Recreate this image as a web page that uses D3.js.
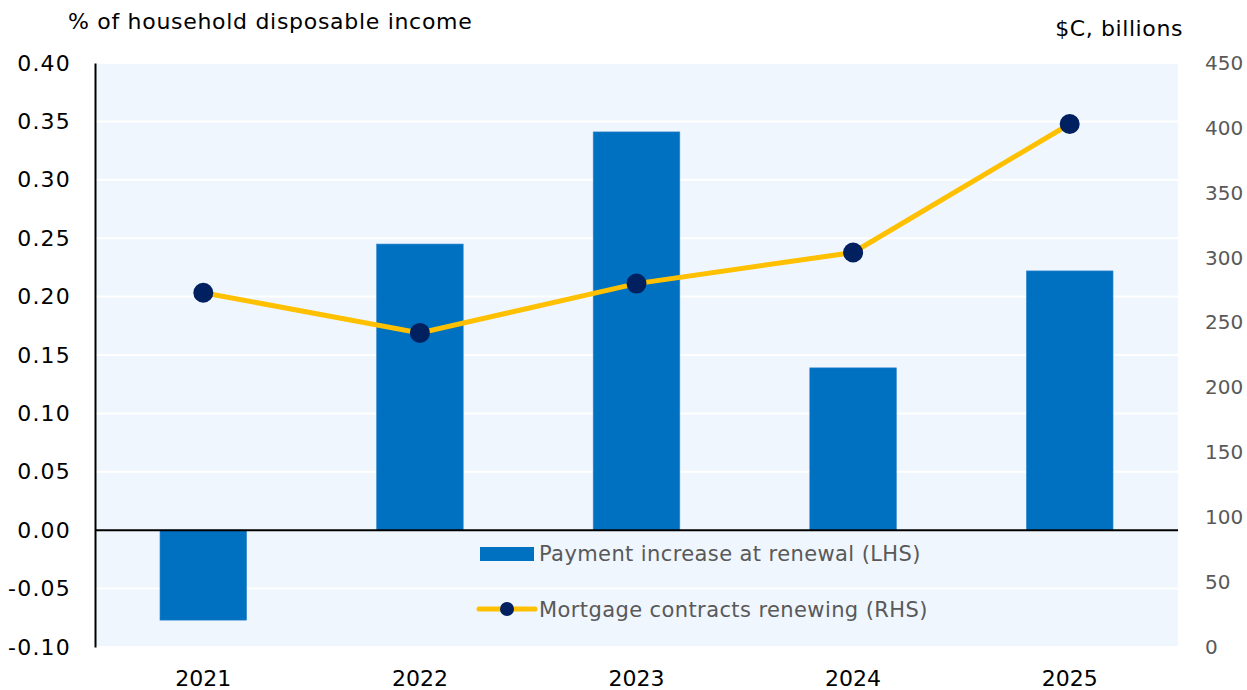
<!DOCTYPE html>
<html>
<head>
<meta charset="utf-8">
<script src="https://cdn.jsdelivr.net/npm/d3@7"></script>
<style>
  body { margin: 0; background: #ffffff; }
  svg text { font-family: "DejaVu Sans", sans-serif; }
</style>
</head>
<body>
<div id="chart"></div>
<script>
// podaci
const godine = ["2021", "2022", "2023", "2024", "2025"];
const povecanjeRate = [-0.077, 0.245, 0.341, 0.139, 0.222];   // % dohotka (LHS)
const ugovori = [273, 242, 280, 304, 403];                     // $C mlrd (RHS)
const lijeviTickovi = [-0.10, -0.05, 0.00, 0.05, 0.10, 0.15, 0.20, 0.25, 0.30, 0.35, 0.40];
const desniTickovi = [0, 50, 100, 150, 200, 250, 300, 350, 400, 450];
const nazivSerija = ["Payment increase at renewal (LHS)", "Mortgage contracts renewing (RHS)"];

function drawChart() {
    const dim = {
        sirina: 1247,
        visina: 690,
        margine: { top: 63, right: 69, bottom: 43, left: 95 },
    };
    dim.grSirina = dim.sirina - dim.margine.left - dim.margine.right;
    dim.grVisina = dim.visina - dim.margine.top - dim.margine.bottom;

    const svg = d3.select("#chart")
        .append("svg")
        .attr("width", dim.sirina)
        .attr("height", dim.visina);

    const okvir = svg.append("g")
        .attr("transform", `translate(${dim.margine.left},${dim.margine.top})`);

    // razmjeri
    const xScale = d3.scaleBand()
        .domain(godine)
        .range([0, dim.grSirina])
        .paddingInner(0.6)
        .paddingOuter(0.3);

    const yLijevo = d3.scaleLinear()
        .domain([-0.10, 0.40])
        .range([dim.grVisina, 0]);

    const yDesno = d3.scaleLinear()
        .domain([0, 450])
        .range([dim.grVisina, 0]);

    // pozadina
    okvir.append("rect")
        .attr("width", dim.grSirina)
        .attr("height", dim.grVisina)
        .attr("fill", "#eff6fd");

    // mreza
    okvir.append("g")
        .selectAll("line")
        .data(lijeviTickovi.filter(d => d !== 0))
        .join("line")
        .attr("x1", 0)
        .attr("x2", dim.grSirina)
        .attr("y1", d => yLijevo(d))
        .attr("y2", d => yLijevo(d))
        .attr("stroke", "#ffffff")
        .attr("stroke-width", 2);

    // lijeva os
    const osL = okvir.append("g")
        .call(d3.axisLeft(yLijevo).tickValues(lijeviTickovi).tickFormat(d3.format(".2f")).tickSize(0).tickPadding(24));
    osL.select(".domain").attr("stroke", "#000").attr("stroke-width", 2);
    osL.selectAll("text")
        .attr("fill", "#000")
        .style("font-size", "22px")
        .style("letter-spacing", "1.2px")
        .text(d => d3.format(".2f")(d).replace("−", "-"));

    // desna os
    const osD = okvir.append("g")
        .attr("transform", `translate(${dim.grSirina},0)`)
        .call(d3.axisRight(yDesno).tickValues(desniTickovi).tickSize(0).tickPadding(27));
    osD.select(".domain").remove();
    osD.selectAll("text")
        .attr("fill", "#595959")
        .style("font-size", "20px");

    // x os - samo oznake
    okvir.append("g")
        .selectAll("text")
        .data(godine)
        .join("text")
        .attr("x", d => xScale(d) + xScale.bandwidth() / 2)
        .attr("y", dim.grVisina + 39)
        .attr("text-anchor", "middle")
        .style("font-size", "22px")
        .attr("fill", "#000")
        .text(d => d);

    // stupci
    okvir.append("g")
        .selectAll("rect")
        .data(godine)
        .join("rect")
        .attr("x", d => xScale(d))
        .attr("width", xScale.bandwidth())
        .attr("y", (d, i) => yLijevo(Math.max(0, povecanjeRate[i])))
        .attr("height", (d, i) => Math.abs(yLijevo(povecanjeRate[i]) - yLijevo(0)))
        .attr("fill", "#0070c0")
        .attr("stroke", "#3a8ad0")
        .attr("stroke-width", 0.6);

    // nulta linija
    okvir.append("line")
        .attr("x1", 0)
        .attr("x2", dim.grSirina)
        .attr("y1", yLijevo(0))
        .attr("y2", yLijevo(0))
        .attr("stroke", "#000")
        .attr("stroke-width", 2);

    // linija
    const linija = d3.line()
        .x((d, i) => xScale(godine[i]) + xScale.bandwidth() / 2)
        .y(d => yDesno(d));

    okvir.append("path")
        .datum(ugovori)
        .attr("d", linija)
        .attr("fill", "none")
        .attr("stroke", "#ffc000")
        .attr("stroke-width", 5);

    okvir.append("g")
        .selectAll("circle")
        .data(ugovori)
        .join("circle")
        .attr("cx", (d, i) => xScale(godine[i]) + xScale.bandwidth() / 2)
        .attr("cy", d => yDesno(d))
        .attr("r", 10)
        .attr("fill", "#002060");

    // naslovi osi
    svg.append("text")
        .attr("x", 68)
        .attr("y", 29)
        .style("font-size", "22px")
        .style("letter-spacing", "0.7px")
        .attr("fill", "#000")
        .text("% of household disposable income");

    svg.append("text")
        .attr("x", 1183)
        .attr("y", 36)
        .attr("text-anchor", "end")
        .style("font-size", "22px")
        .style("letter-spacing", "0.6px")
        .attr("fill", "#000")
        .text("$C, billions");

    // legenda
    const legenda = svg.append("g");
    legenda.append("rect")
        .attr("x", 480)
        .attr("y", 547)
        .attr("width", 54)
        .attr("height", 14)
        .attr("fill", "#0070c0");
    legenda.append("text")
        .attr("x", 539)
        .attr("y", 561)
        .style("font-size", "21px")
        .style("letter-spacing", "0.4px")
        .attr("fill", "#595959")
        .text(nazivSerija[0]);

    legenda.append("line")
        .attr("x1", 479)
        .attr("x2", 535)
        .attr("y1", 609)
        .attr("y2", 609)
        .attr("stroke", "#ffc000")
        .attr("stroke-width", 5)
        .attr("stroke-linecap", "round");
    legenda.append("circle")
        .attr("cx", 507)
        .attr("cy", 609)
        .attr("r", 7)
        .attr("fill", "#002060");
    legenda.append("text")
        .attr("x", 539)
        .attr("y", 617)
        .style("font-size", "21px")
        .style("letter-spacing", "0.4px")
        .attr("fill", "#595959")
        .text(nazivSerija[1]);
}

drawChart();
</script>
</body>
</html>
